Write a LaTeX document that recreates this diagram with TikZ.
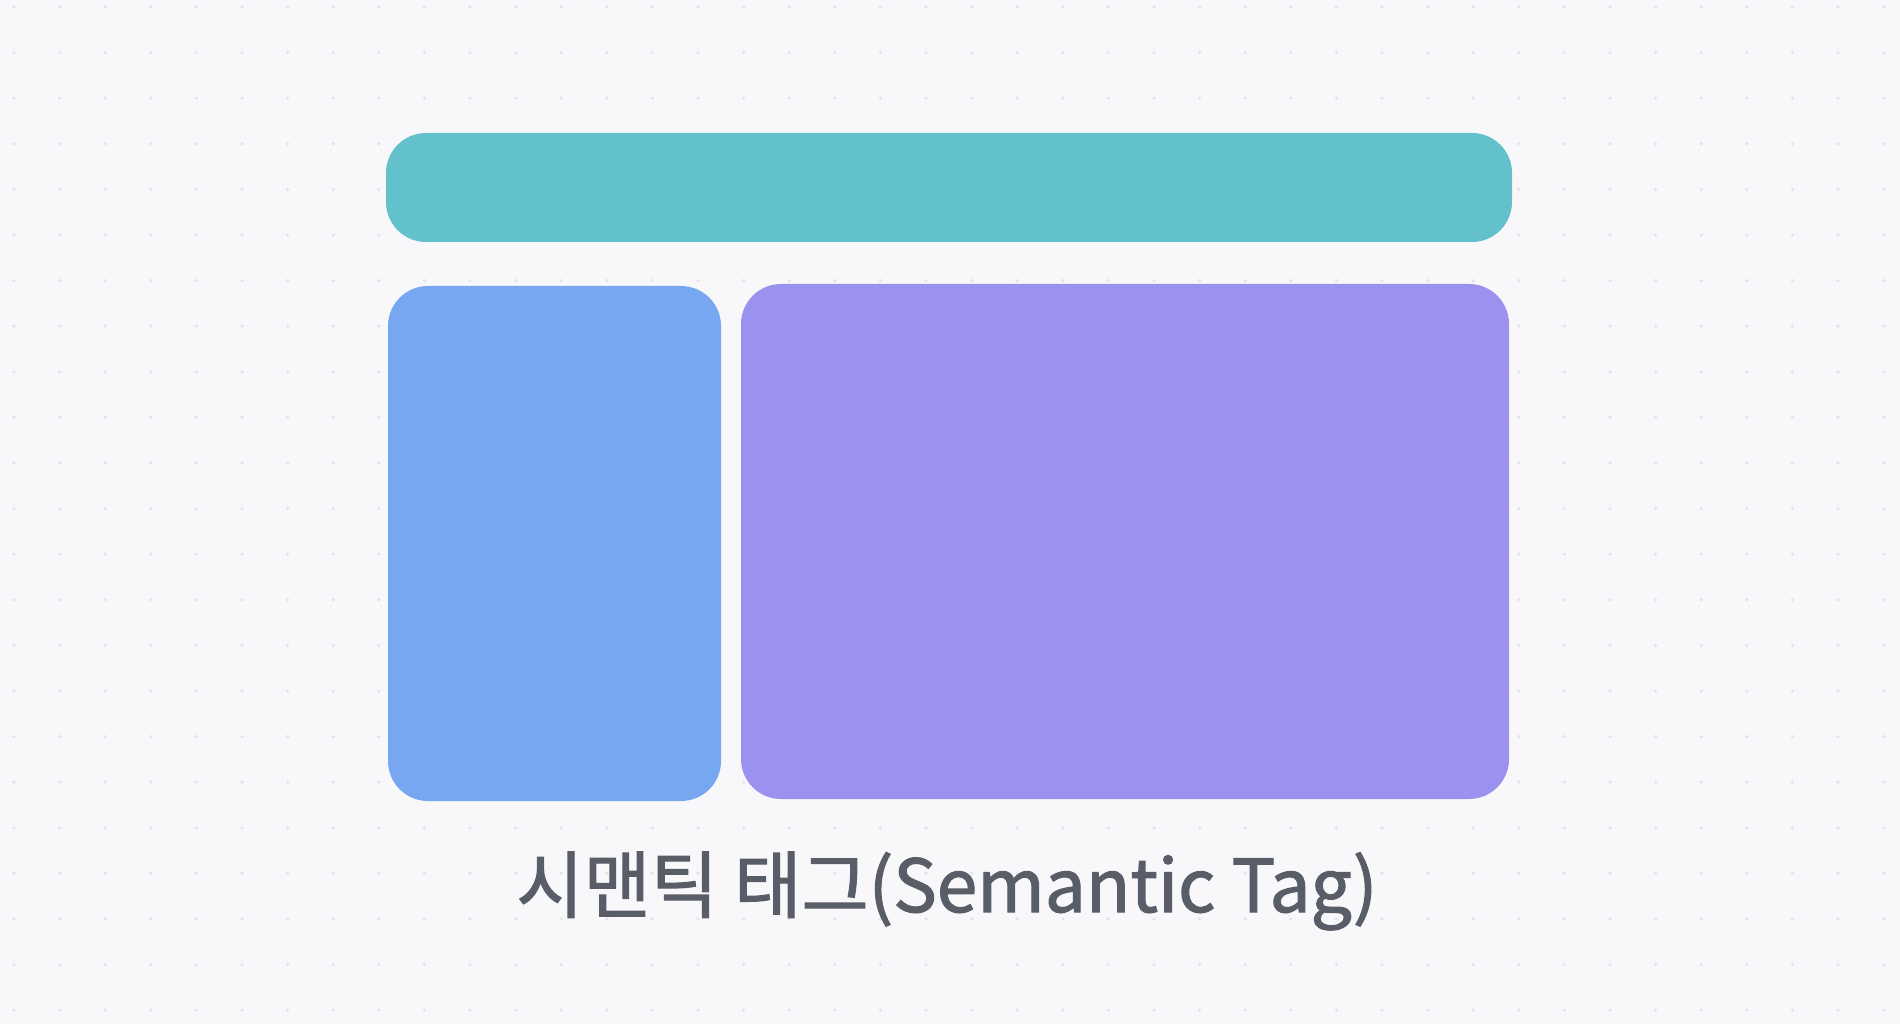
\documentclass[tikz,border=0pt]{standalone}
\usepackage{fontspec}
\newfontfamily\krfont[FakeBold=1.6]{Noto Sans CJK KR}
\definecolor{bgc}{HTML}{F8F8FA}
\definecolor{dotc}{HTML}{E3E3EA}
\definecolor{tealc}{HTML}{62C1CA}
\definecolor{bluec}{HTML}{76A7F0}
\definecolor{purplec}{HTML}{9B91EE}
\definecolor{textc}{HTML}{585D68}
\begin{document}
\begin{tikzpicture}[x=1pt,y=-1pt,
  block/.style={rounded corners=40pt},
  caption/.style={font=\krfont\fontsize{73}{80}\selectfont, text=textc, inner sep=0pt, anchor=base}]
\fill[bgc] (0,0) rectangle (1900,1024);
\useasboundingbox (0,0) rectangle (1900,1024);
\foreach \i in {0,...,41} {
  \foreach \j in {0,...,22} {
    \fill[dotc] ({14+45.6*\i},{7+45.6*\j}) circle (1.8pt);
  }
}
\fill[tealc, block] (386,133) rectangle (1512,242);
\fill[bluec, block] (388,286) rectangle (721,801);
\fill[purplec, block] (741,284) rectangle (1509,799);
\node[caption] (cap) at (947,912) {시맨틱 태그(Semantic Tag)};
\end{tikzpicture}
\end{document}
